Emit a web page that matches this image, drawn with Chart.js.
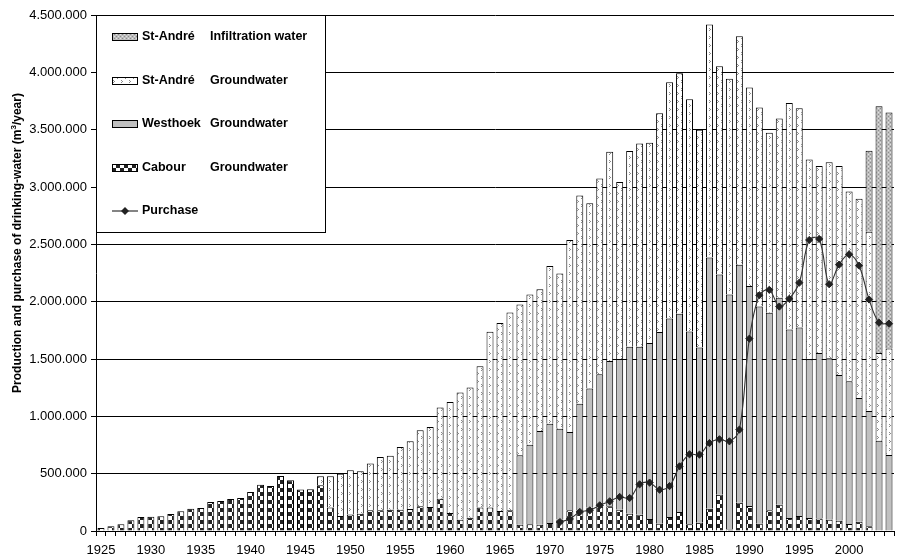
<!DOCTYPE html>
<html lang="en">

<head>
    <meta charset="UTF-8">
    <title>Production and purchase of drinking-water</title>
    <script src="https://cdn.jsdelivr.net/npm/chart.js"></script>
    <style>
        body {
            margin: 0;
            background: #fff;
        }

        .grafico {
            position: relative;
            width: 899px;
            height: 558px;
        }
    </style>
</head>

<body>
    <div class="grafico">
        <canvas id="producao"></canvas>
    </div>
</body>

</html>
<script>
    // years on the category axis
    const years = [
        1925, 1926, 1927, 1928, 1929, 1930, 1931, 1932, 1933, 1934,
        1935, 1936, 1937, 1938, 1939, 1940, 1941, 1942, 1943, 1944,
        1945, 1946, 1947, 1948, 1949, 1950, 1951, 1952, 1953, 1954,
        1955, 1956, 1957, 1958, 1959, 1960, 1961, 1962, 1963, 1964,
        1965, 1966, 1967, 1968, 1969, 1970, 1971, 1972, 1973, 1974,
        1975, 1976, 1977, 1978, 1979, 1980, 1981, 1982, 1983, 1984,
        1985, 1986, 1987, 1988, 1989, 1990, 1991, 1992, 1993, 1994,
        1995, 1996, 1997, 1998, 1999, 2000, 2001, 2002, 2003, 2004
    ];

    // m3/year, one value per year (1925 - 2004)
    const cabour = [
        26000, 41000, 58000, 93000, 122000, 125000, 128000, 148000, 172000, 195000,
        200000, 253000, 262000, 279000, 288000, 340000, 404000, 393000, 480000, 442000,
        361000, 364000, 399000, 204000, 131000, 143000, 151000, 180000, 180000, 186000,
        186000, 192000, 215000, 209000, 282000, 157000, 99000, 116000, 204000, 204000,
        174000, 180000, 55000, 58000, 55000, 70000, 100000, 180000, 180000, 203000,
        215000, 215000, 186000, 151000, 142000, 105000, 64000, 122000, 166000, 58000,
        73000, 195000, 317000, 12000, 247000, 218000, 64000, 180000, 230000, 113000,
        131000, 113000, 108000, 99000, 90000, 61000, 81000, 41000, 0, 0
    ];

    const westhoek = [
        0, 0, 0, 0, 0, 0, 0, 0, 0, 0,
        0, 0, 0, 0, 0, 0, 0, 0, 0, 0,
        0, 0, 0, 0, 0, 0, 0, 0, 0, 0,
        0, 0, 0, 0, 0, 0, 0, 0, 0, 0,
        0, 0, 605000, 695000, 817000, 866000, 792000, 683000, 929000, 1039000,
        1152000, 1267000, 1314000, 1455000, 1464000, 1535000, 1672000, 1732000, 1729000, 1681000,
        1527000, 2190000, 1919000, 2050000, 2074000, 1919000, 1893000, 1724000, 1804000, 1645000,
        1643000, 1384000, 1445000, 1407000, 1270000, 1244000, 1078000, 1006000, 786000, 662000
    ];

    const standreGround = [
        0, 0, 0, 0, 0, 0, 0, 0, 0, 0,
        0, 0, 0, 0, 0, 0, 0, 0, 0, 0,
        0, 0, 78000, 273000, 369000, 386000, 370000, 408000, 466000, 471000,
        547000, 591000, 663000, 699000, 794000, 969000, 1108000, 1135000, 1233000, 1533000,
        1641000, 1725000, 1315000, 1309000, 1237000, 1374000, 1354000, 1674000, 1817000, 1616000,
        1708000, 1826000, 1544000, 1708000, 1773000, 1746000, 1907000, 2060000, 2096000, 2026000,
        1900000, 2032000, 1817000, 1883000, 1993000, 1730000, 1736000, 1569000, 1563000, 1975000,
        1913000, 1743000, 1631000, 1709000, 1824000, 1655000, 1739000, 1562000, 767000, 930000
    ];

    const standreInfiltration = [
        0, 0, 0, 0, 0, 0, 0, 0, 0, 0,
        0, 0, 0, 0, 0, 0, 0, 0, 0, 0,
        0, 0, 0, 0, 0, 0, 0, 0, 0, 0,
        0, 0, 0, 0, 0, 0, 0, 0, 0, 0,
        0, 0, 0, 0, 0, 0, 0, 0, 0, 0,
        0, 0, 0, 0, 0, 0, 0, 0, 0, 0,
        0, 0, 0, 0, 0, 0, 0, 0, 0, 0,
        0, 0, 0, 0, 0, 0, 0, 708000, 2152000, 2058000
    ];

    // purchase only from 1971 on
    const purchaseFrom = 1971;
    const purchase = [
        78000, 105000, 166000, 180000, 224000, 259000, 297000, 288000, 407000, 422000,
        360000, 392000, 564000, 669000, 666000, 767000, 800000, 782000, 884000, 1677000,
        2056000, 2103000, 1957000, 2025000, 2165000, 2538000, 2547000, 2152000, 2323000, 2413000,
        2314000, 2019000, 1817000, 1808000
    ];

    const legendSite = ['Cabour', 'Westhoek', 'St-André', 'St-André', 'Purchase'];
    const legendSource = ['Groundwater', 'Groundwater', 'Groundwater', 'Infiltration water', ''];

    const yMax = 4500000;
    const yStep = 500000;

    const fontFamily = 'Arial, "Liberation Sans", sans-serif';

    // small fill patterns like the old excel ones
    function makePattern(w, h, paint) {
        const tile = document.createElement('canvas');
        tile.width = w;
        tile.height = h;
        const g = tile.getContext('2d');
        paint(g);
        return g.createPattern(tile, 'repeat');
    }

    const checker = makePattern(8, 8, function (g) {
        g.fillStyle = '#fff';
        g.fillRect(0, 0, 8, 8);
        g.fillStyle = '#222';
        g.fillRect(0, 0, 4, 4);
        g.fillRect(4, 4, 4, 4);
    });

    const arrows = makePattern(8, 8, function (g) {
        g.fillStyle = '#fff';
        g.fillRect(0, 0, 8, 8);
        g.fillStyle = '#8a8a8a';
        g.fillRect(1, 0, 1, 1);
        g.fillRect(2, 1, 1, 1);
        g.fillRect(1, 2, 1, 1);
        g.fillRect(5, 4, 1, 1);
        g.fillRect(6, 5, 1, 1);
        g.fillRect(5, 6, 1, 1);
    });

    const dotted = makePattern(4, 4, function (g) {
        g.fillStyle = '#bdbdbd';
        g.fillRect(0, 0, 4, 4);
        g.fillStyle = '#8c8c8c';
        g.fillRect(0, 0, 1, 1);
        g.fillRect(2, 2, 1, 1);
        g.fillStyle = '#e2e2e2';
        g.fillRect(2, 0, 1, 1);
        g.fillRect(0, 2, 1, 1);
    });

    function noZero(list) {
        return list.map(v => v === 0 ? null : v);
    }

    function barSet(i, data, fill) {
        return {
            type: 'bar',
            label: legendSite[i] + ' ' + legendSource[i],
            data: noZero(data),
            backgroundColor: fill,
            borderColor: '#000',
            borderWidth: 1,
            borderSkipped: 'start',
            barPercentage: 0.7,
            categoryPercentage: 1,
            stack: 'production',
            order: 1
        };
    }

    const purchaseData = years.map(y => y < purchaseFrom ? null : purchase[y - purchaseFrom]);

    const datasets = [
        barSet(0, cabour, checker),
        barSet(1, westhoek, '#c0c0c0'),
        barSet(2, standreGround, arrows),
        barSet(3, standreInfiltration, dotted),
        {
            type: 'line',
            label: legendSite[4],
            data: purchaseData,
            borderColor: '#333',
            borderWidth: 1.1,
            tension: 0.35,
            pointStyle: 'rectRot',
            pointRadius: 3.6,
            pointBackgroundColor: '#222',
            pointBorderColor: '#222',
            pointBorderWidth: 1,
            stack: 'purchase',
            order: 0
        }
    ];

    // y title, drawn by hand because of the superscript and its position
    const yTitle = {
        id: 'yTitle',
        afterDraw(chart) {
            const ctx = chart.ctx;
            const partA = 'Production and purchase of drinking-water (m';
            const partB = '3';
            const partC = '/year)';
            ctx.save();
            ctx.fillStyle = '#000';
            ctx.textBaseline = 'alphabetic';
            ctx.font = 'bold 12px ' + fontFamily;
            const wA = ctx.measureText(partA).width;
            const wC = ctx.measureText(partC).width;
            ctx.font = 'bold 8px ' + fontFamily;
            const wB = ctx.measureText(partB).width;
            const total = wA + wB + wC;
            ctx.translate(21, 243);
            ctx.rotate(-Math.PI / 2);
            let x = -total / 2;
            ctx.font = 'bold 12px ' + fontFamily;
            ctx.fillText(partA, x, 0);
            x += wA;
            ctx.font = 'bold 8px ' + fontFamily;
            ctx.fillText(partB, x, -5);
            x += wB;
            ctx.font = 'bold 12px ' + fontFamily;
            ctx.fillText(partC, x, 0);
            ctx.restore();
        }
    };

    // legend box in the upper left corner of the plot
    const boxLegend = {
        id: 'boxLegend',
        afterDatasetsDraw(chart) {
            const ctx = chart.ctx;
            const left = chart.chartArea.left;
            const top = chart.chartArea.top;
            const rows = [3, 2, 1, 0, 4];
            ctx.save();
            ctx.fillStyle = '#fff';
            ctx.fillRect(left, top, 229, 217);
            ctx.strokeStyle = '#000';
            ctx.lineWidth = 1;
            ctx.strokeRect(left + 0.5, top + 0.5, 229, 217);

            ctx.font = 'bold 12.5px ' + fontFamily;
            ctx.textBaseline = 'middle';
            rows.forEach(function (i, r) {
                const ds = chart.data.datasets[i];
                const y = Math.round(top + 22 + r * 43.5);
                if (ds.type === 'bar') {
                    ctx.fillStyle = ds.backgroundColor;
                    ctx.fillRect(left + 16, y - 4, 26, 8);
                    ctx.strokeStyle = '#000';
                    ctx.strokeRect(left + 16.5, y - 3.5, 25, 7);
                } else {
                    ctx.strokeStyle = ds.borderColor;
                    ctx.lineWidth = 1.2;
                    ctx.beginPath();
                    ctx.moveTo(left + 16, y);
                    ctx.lineTo(left + 42, y);
                    ctx.stroke();
                    ctx.fillStyle = ds.pointBackgroundColor;
                    ctx.beginPath();
                    ctx.moveTo(left + 29, y - 4);
                    ctx.lineTo(left + 33, y);
                    ctx.lineTo(left + 29, y + 4);
                    ctx.lineTo(left + 25, y);
                    ctx.closePath();
                    ctx.fill();
                }
                ctx.fillStyle = '#000';
                ctx.fillText(legendSite[i], left + 46, y);
                if (legendSource[i]) {
                    ctx.fillText(legendSource[i], left + 114, y);
                }
            });
            ctx.restore();
        }
    };

    function dots(value) {
        return String(value).replace(/\B(?=(\d{3})+(?!\d))/g, '.');
    }

    const config = {
        data: {
            labels: years,
            datasets: datasets
        },
        options: {
            responsive: true,
            maintainAspectRatio: false,
            animation: false,
            layout: {
                padding: { top: 15, right: 0, bottom: 0, left: 0 }
            },
            plugins: {
                legend: { display: false },
                tooltip: { enabled: false }
            },
            scales: {
                x: {
                    stacked: true,
                    offset: true,
                    afterFit(scale) { scale.height = 27; },
                    grid: {
                        offset: true,
                        drawOnChartArea: false,
                        drawTicks: true,
                        tickLength: 5,
                        color: '#000'
                    },
                    border: { color: '#000' },
                    ticks: {
                        autoSkip: false,
                        maxRotation: 0,
                        padding: 7,
                        color: '#000',
                        font: { family: fontFamily, size: 13 },
                        callback: function (value, index) {
                            return years[index] % 5 === 0 ? String(years[index]) : '';
                        }
                    }
                },
                y: {
                    stacked: true,
                    min: 0,
                    max: yMax,
                    afterFit(scale) { scale.width = 96; },
                    grid: {
                        color: '#000',
                        tickLength: 5
                    },
                    border: { color: '#000' },
                    ticks: {
                        stepSize: yStep,
                        padding: 4,
                        color: '#000',
                        font: { family: fontFamily, size: 13 },
                        callback: function (value) {
                            return dots(value);
                        }
                    }
                }
            }
        },
        plugins: [yTitle, boxLegend]
    };

    let myChart = new Chart(
        document.getElementById('producao'),
        config
    );
</script>
